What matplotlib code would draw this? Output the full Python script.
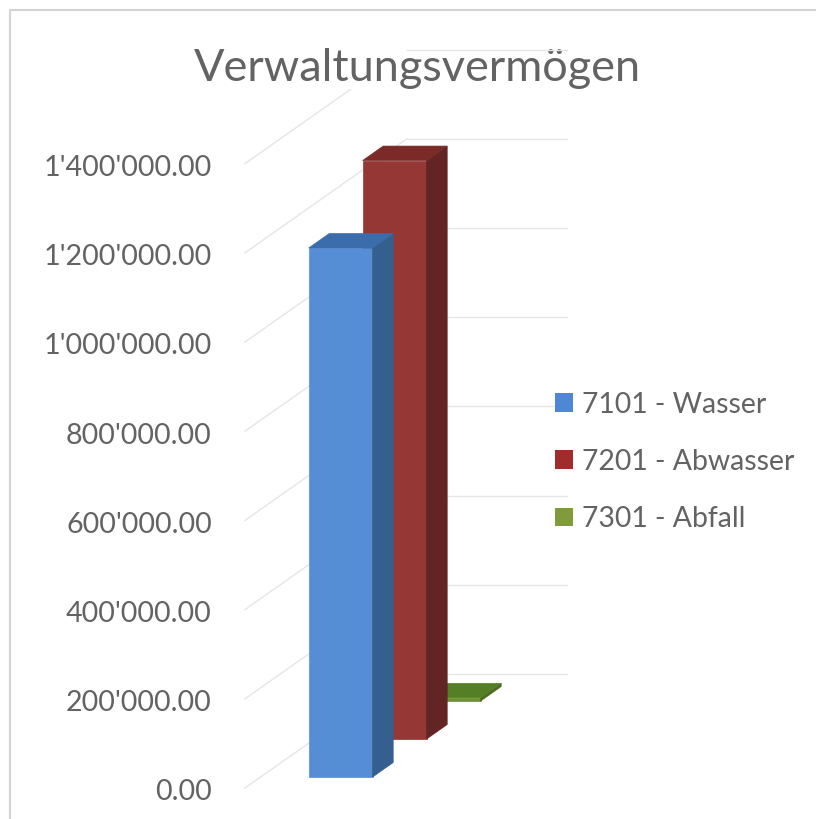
"""
Pseudo 3D column chart of the administrative assets per account.
"""
import matplotlib
matplotlib.use("Agg")
import matplotlib.pyplot as plt
from matplotlib.patches import Patch
from matplotlib.transforms import ScaledTranslation

plt.rcParams['font.family'] = ['Lato', 'DejaVu Sans']

title = "Verwaltungsvermögen"
series = ["7101 - Wasser", "7201 - Abwasser", "7301 - Abfall"]
values = [1186000, 1297000, 7000]
tick_values = [0, 200000, 400000, 600000, 800000, 1000000, 1200000, 1400000]
tick_labels = ["0.00", "200'000.00", "400'000.00", "600'000.00", "800'000.00",
               "1'000'000.00", "1'200'000.00", "1'400'000.00"]
front_colors = ["#558ed5", "#953735", "#6f8f34"]
side_colors = ["#345f8e", "#632523", "#4b6b1e"]
top_colors = ["#3b6cab", "#7b2a28", "#557f26"]
legend_colors = ["#4f86d6", "#a02c2c", "#7f9b3c"]

UNITS_PER_PX = 200000 / 89.2
DEPTH_X = 54
DEPTH_Y = 38 * UNITS_PER_PX
TEXT_COLOR = "#636363"
GRID_COLOR = "#e6e6e6"


def project(x: float, depth: float, value: float) -> tuple:
    """Oblique projection of a point on the chart floor/walls."""
    return x + depth * DEPTH_X, value + depth * DEPTH_Y


def draw_bar(ax, i: int) -> None:
    """Draw front, side and top faces of bar i."""
    x0, x1 = 293, 357
    d0, d1 = 0.29 + i, 0.67 + i
    v = values[i]
    front = [project(x0, d0, 0), project(x1, d0, 0), project(x1, d0, v), project(x0, d0, v)]
    side = [project(x1, d0, 0), project(x1, d1, 0), project(x1, d1, v), project(x1, d0, v)]
    top = [project(x0, d0, v), project(x1, d0, v), project(x1, d1, v), project(x0, d1, v)]
    for face, color in zip([front, side, top], [front_colors[i], side_colors[i], top_colors[i]]):
        ax.fill(*zip(*face), color=color, lw=0.5, zorder=3 + (2 - i))


fig = plt.figure(figsize=(8.16, 8.19), dpi=100)
ax = fig.add_axes([0, 0, 1, 1])
ax.set_xlim(0, 816)
ax.set_ylim(-31 * UNITS_PER_PX, 788 * UNITS_PER_PX)
for spine in ax.spines.values():
    spine.set_visible(False)
ax.set_xticks([])
ax.set_yticks(tick_values)
ax.set_yticklabels(tick_labels)
ax.tick_params(axis='y', length=0, pad=-152.5, labelsize=20.6, labelcolor=TEXT_COLOR)
for label in ax.get_yticklabels():
    label.set_transform(label.get_transform() + ScaledTranslation(0, -2 / 100, fig.dpi_scale_trans))

# walls, the back line goes over the white box of the title
for v in tick_values:
    ax.plot(*zip(project(245, 0, v), project(245, 3, v)), color=GRID_COLOR, lw=1, zorder=1)
    ax.plot(*zip(project(245, 3, v), project(405, 3, v)), color=GRID_COLOR, lw=1, zorder=7 if v == 1400000 else 1)

for i in range(len(values)):
    draw_bar(ax, i)

# chart border, only top and left show in the crop
ax.plot([10, 10, 816], [-31 * UNITS_PER_PX, 778 * UNITS_PER_PX, 778 * UNITS_PER_PX],
        color="#d4d4d4", lw=1.5, zorder=2, clip_on=False)

ax.text(417, 719 * UNITS_PER_PX, title, fontsize=32.5, color=TEXT_COLOR, ha='center', va='center',
        zorder=6, bbox=dict(facecolor='white', edgecolor='none', pad=0))

handles = [Patch(facecolor=c, edgecolor='none') for c in legend_colors]
ax.legend(handles, series, loc='center left', bbox_to_anchor=(0.680, 0.4363), frameon=False,
          fontsize=20.4, labelcolor=TEXT_COLOR, handlelength=0.64, handleheight=0.64,
          handletextpad=0.32, labelspacing=1.1, borderpad=0, borderaxespad=0)

fig.savefig("out.png", dpi=100)
